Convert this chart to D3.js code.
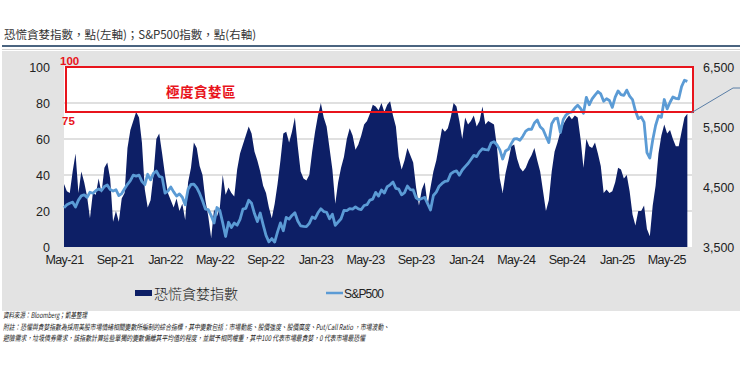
<!DOCTYPE html>
<html>
<head>
<meta charset="utf-8">
<script src="https://cdn.jsdelivr.net/npm/d3@7/dist/d3.min.js"></script>
<style>
  body { margin: 0; background: #fff; }
  svg text { font-family: "Liberation Sans", Arial, sans-serif; }
  .cjk { font-family: "Noto Sans CJK TC", "Noto Sans CJK SC", sans-serif; }
</style>
</head>
<body>
<script>
// weekly data, week starting Monday 2021-05-17
var startDate = "2021-05-17";

// fear & greed index (left axis)
var fearGreed = [
  35,31,30,42,52,30,42,36,28,16,30,29,38,30,44,47,38,14,20,14,27,30,55,65,70,75,72,58,32,22,26,40,60,
  63,52,40,30,26,22,27,20,24,15,36,44,58,55,45,40,26,17,5,21,17,22,40,29,33,30,28,43,52,57,62,67,63,
  53,48,42,34,30,22,16,24,35,48,63,64,58,64,72,56,42,38,37,
  40,53,64,73,80,72,67,55,43,24,36,44,50,60,66,62,54,57,62,68,70,74,79,78,76,80,75,79,81,73,67,50,43,
  48,55,51,47,33,23,32,36,23,33,42,48,57,66,64,66,72,80,78,
  70,60,72,68,70,73,67,70,78,68,70,69,68,56,38,30,41,48,56,57,49,44,42,44,48,51,55,48,42,31,20,26,42,
  53,58,64,68,71,73,71,73,72,60,44,60,56,55,58,52,45,30,32,
  30,31,36,44,43,38,40,31,18,12,20,20,23,10,6,23,34,52,62,68,63,65,60,56,56,64,72,74
];

// S&P 500 (right axis)
var sp500 = [
  4156,4204,4230,4247,4166,4281,4352,4370,4327,4412,4395,4437,4468,4442,4509,4535,4458,4433,4455,4357,
  4391,4471,4545,4605,4697,4682,4698,4595,4538,4712,4620,4726,4766,
  4677,4663,4398,4432,4500,4419,4349,4385,4329,4204,4463,4543,4546,4488,4393,4272,4132,4123,4023,3901,
  4158,4109,3901,3675,3912,3825,3899,3863,3962,4130,4145,4280,4228,4058,3924,4067,3873,3693,3586,3640,
  3583,3753,3901,3771,3993,3965,4026,4072,3934,3852,3845,3840,
  3895,3999,3973,4070,4136,4090,4079,3970,4046,3862,3917,3971,4109,4105,4138,4133,4169,4136,4124,4192,
  4205,4282,4299,4410,4348,4450,4399,4505,4536,4582,4478,4464,4370,4406,4516,4457,4450,4320,4288,4308,
  4327,4224,4117,4358,4415,4514,4559,4595,4604,4719,4754,4770,
  4697,4783,4840,4891,4959,5027,5006,5089,5137,5124,5117,5234,5254,5204,5123,4967,5100,5128,5223,5303,
  5305,5278,5347,5432,5465,5460,5567,5615,5505,5459,5346,5240,5554,5634,5648,5408,5626,5703,5738,5751,
  5815,5864,5808,5729,5995,5870,5969,6032,6090,6051,5930,5971,
  5942,5827,5997,6101,6041,6026,6115,6013,5955,5770,5639,5668,5581,5074,4982,5283,5525,5686,5660,5958,
  5803,5912,6000,5977,5968,6173,6279,6260
];

var leftTicks = [0, 20, 40, 60, 80, 100];
var rightTicks = [3500, 4500, 5500, 6500];
var xTickLabels = ["May-21","Sep-21","Jan-22","May-22","Sep-22","Jan-23","May-23","Sep-23",
                   "Jan-24","May-24","Sep-24","Jan-25","May-25"];
var greedZone = [75, 100];

var title = "恐慌貪婪指數，點(左軸)；S&P500指數，點(右軸)";
var notes = [
  "資料來源：Bloomberg；凱基整理",
  "附註：恐懼與貪婪指數為採用美股市場情緒相關變數所編制的綜合指標，其中變數包括：市場動能、股價強度、股價廣度、Put/Call Ratio ，市場波動、",
  "避險需求，垃圾債券需求，該指數計算這些單獨的變數偏離其平均值的程度，並賦予相同權重，其中100 代表市場最貪婪，0 代表市場最恐懼"
];

var width = 740, height = 375;
var navy = "#0d1f66", lightBlue = "#5b9bd5", red = "#e8141c";

var parse = d3.utcParse("%Y-%m-%d");
var t0 = parse(startDate);
var data = fearGreed.map(function (v, i) {
  return { date: d3.utcDay.offset(t0, 7 * i), fg: v, sp: sp500[i] };
});

var svg = d3.select("body").append("svg")
    .attr("width", width)
    .attr("height", height);

// title + rule
svg.append("text").attr("class", "cjk")
    .attr("x", 4).attr("y", 39)
    .attr("font-size", 11.5).attr("fill", "#333")
    .text(title);
svg.append("line").attr("x1", 2).attr("x2", 740).attr("y1", 46).attr("y2", 46)
    .attr("stroke", "#4a6480").attr("stroke-width", 2);
svg.append("line").attr("x1", 2).attr("x2", 740).attr("y1", 49.5).attr("y2", 49.5)
    .attr("stroke", "#d0d0d0").attr("stroke-width", 1);

// grey chart panel
svg.append("rect").attr("x", 2).attr("y", 51).attr("width", 738).attr("height", 260)
    .attr("fill", "#e3e3e3");

var x = d3.scaleUtc()
    .domain([t0, d3.utcDay.offset(t0, 7 * (fearGreed.length - 1) + 4)])
    .range([64, 689]);
var yL = d3.scaleLinear().domain([0, 100]).range([247, 67]);
var yR = d3.scaleLinear().domain([3500, 6500]).range([247, 67]);

// white plot area
svg.append("rect").attr("x", 64).attr("y", yL(100) - 1)
    .attr("width", 628).attr("height", yL(0) - yL(100) + 1)
    .attr("fill", "#fff");

// gridlines
svg.append("g").selectAll("line")
    .data(leftTicks.filter(function (d) { return d > 0 && d < 100; }))
    .enter().append("line")
    .attr("x1", 64).attr("x2", 692)
    .attr("y1", function (d) { return yL(d); })
    .attr("y2", function (d) { return yL(d); })
    .attr("stroke", "#d6d6d6").attr("stroke-width", 1.5);

// fear & greed area
var area = d3.area()
    .x(function (d) { return x(d.date); })
    .y0(yL(0))
    .y1(function (d) { return yL(d.fg); });
svg.append("path").datum(data)
    .attr("d", area)
    .attr("fill", navy);

// S&P 500 line
var line = d3.line()
    .x(function (d) { return x(d.date); })
    .y(function (d) { return yR(d.sp); });
svg.append("path").datum(data)
    .attr("d", line)
    .attr("fill", "none")
    .attr("stroke", lightBlue)
    .attr("stroke-width", 2.8)
    .attr("stroke-linejoin", "round");

// left axis
var leftAxis = d3.axisLeft(yL).tickValues(leftTicks).tickSize(0).tickPadding(0);
var gl = svg.append("g").attr("transform", "translate(50,0)").call(leftAxis);
gl.select(".domain").remove();
gl.selectAll("text").attr("font-size", 12.5).attr("fill", "#222")
    .attr("font-family", "Liberation Sans, Arial, sans-serif");

// right axis
var rightAxis = d3.axisRight(yR).tickValues(rightTicks).tickSize(0).tickPadding(0)
    .tickFormat(d3.format(","));
var gr = svg.append("g").attr("transform", "translate(703,0)").call(rightAxis);
gr.select(".domain").remove();
gr.selectAll("text").attr("font-size", 12.5).attr("fill", "#222")
    .attr("font-family", "Liberation Sans, Arial, sans-serif");

// bottom axis (labels sit mid-month)
var fmt = d3.utcFormat("%b-%y");
var xTicks = xTickLabels.map(function (s) {
  var d = d3.utcParse("%b-%y")(s);
  return d3.utcDay.offset(d, 16);
});
var bottomAxis = d3.axisBottom(x).tickValues(xTicks).tickSize(0).tickPadding(0)
    .tickFormat(fmt);
var gb = svg.append("g").attr("transform", "translate(0,255)").call(bottomAxis);
gb.select(".domain").remove();
gb.selectAll("text").attr("font-size", 12.5).attr("fill", "#222")
    .attr("letter-spacing", -0.6)
    .attr("font-family", "Liberation Sans, Arial, sans-serif");

// extreme greed box
svg.append("rect")
    .attr("x", 66).attr("y", yL(greedZone[1]))
    .attr("width", 627).attr("height", yL(greedZone[0]) - yL(greedZone[1]))
    .attr("fill", "none").attr("stroke", red).attr("stroke-width", 2);
svg.append("text").attr("x", 60).attr("y", yL(greedZone[1]) - 2)
    .attr("font-size", 11.5).attr("font-weight", "bold").attr("fill", red)
    .text(greedZone[1]);
svg.append("text").attr("x", 62).attr("y", yL(greedZone[0]) + 13)
    .attr("font-size", 11.5).attr("font-weight", "bold").attr("fill", red)
    .text(greedZone[0]);
svg.append("text").attr("class", "cjk").attr("x", 166).attr("y", 97)
    .attr("font-size", 13.5).attr("font-weight", "bold").attr("fill", red)
    .attr("letter-spacing", 0.5)
    .text("極度貪婪區");

// callout pointer at the latest value
var last = data[data.length - 1];
svg.append("polyline")
    .attr("points", [[x(last.date) + 4, yL(last.fg) - 1], [733, 88], [740, 88]].join(" "))
    .attr("fill", "none").attr("stroke", "#5a7ea6").attr("stroke-width", 1);

// legend
svg.append("rect").attr("x", 135).attr("y", 290).attr("width", 17).attr("height", 6)
    .attr("fill", navy);
svg.append("text").attr("class", "cjk").attr("x", 154).attr("y", 298.5)
    .attr("font-size", 14).attr("font-weight", 300).attr("fill", "#222").text("恐慌貪婪指數");
svg.append("line").attr("x1", 326).attr("x2", 343).attr("y1", 293).attr("y2", 293)
    .attr("stroke", lightBlue).attr("stroke-width", 2.5);
svg.append("text").attr("x", 344).attr("y", 297.5)
    .attr("font-size", 12).attr("fill", "#222").attr("letter-spacing", -0.8)
    .text("S&P500");

// footnotes
var noteY = [318, 329.5, 340.5];
var noteLen = [84, 386, 362];
svg.selectAll(".note").data(notes).enter().append("text")
    .attr("class", "cjk note")
    .attr("x", 3)
    .attr("y", function (d, i) { return noteY[i]; })
    .attr("font-size", 7.8)
    .attr("font-style", "italic")
    .attr("fill", "#222")
    .attr("textLength", function (d, i) { return noteLen[i]; })
    .attr("lengthAdjust", "spacingAndGlyphs")
    .text(function (d) { return d; });
</script>
</body>
</html>
